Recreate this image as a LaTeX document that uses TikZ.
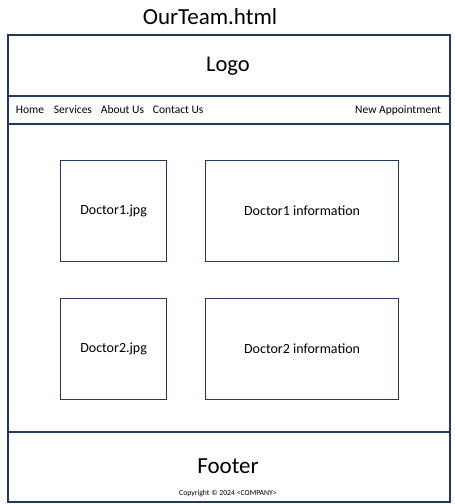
\documentclass[tikz,border=0pt]{standalone}
\usepackage{fontspec}
\setmainfont{Carlito}
\usepackage{tikz}
\definecolor{framenavy}{RGB}{32,56,100}
\tikzset{
  block/.style={draw=framenavy, line width=1.5pt, anchor=north west, inner sep=0pt},
  docbox/.style={draw=framenavy, line width=1.2pt, anchor=north west, inner sep=0pt, font=\fontsize{14}{16}\selectfont},
  navtext/.style={anchor=west, inner sep=0.75pt, font=\fontsize{11.5}{13}\selectfont},
}
\begin{document}
\begin{tikzpicture}[x=1pt,y=-1pt]
\useasboundingbox (0,0) rectangle (455,504);

% Title
\node (title) at (210,17) [font=\fontsize{23}{26}\selectfont] {OurTeam.html};

% page frame sections
\node (header) at (7,34) [block, minimum width=442pt, minimum height=61pt] {};
\node (nav) at (7,95) [block, minimum width=442pt, minimum height=28pt] {};
\node (body) at (7,123) [block, minimum width=442pt, minimum height=308pt] {};
\node (footer) at (7,431) [block, minimum width=442pt, minimum height=70pt] {};

% Text Node
\node (logo) at (228,66) [font=\fontsize{22.5}{26}\selectfont] {Logo};
% menu
\node (home) at (15,110) [navtext] {Home};
\node (services) at (53,110) [navtext] {Services};
\node (about) at (100,110) [navtext] {About Us};
\node (contact) at (152,110) [navtext] {Contact Us};
\node (appoint) at (442,110) [navtext, anchor=east] {New Appointment};

% doctor boxes
\node (doc1pic) at (60,160) [docbox, minimum width=106pt, minimum height=101pt] {Doctor1.jpg};
\node (doc1info) at (205,160) [docbox, minimum width=193pt, minimum height=101pt] {Doctor1 information};
\node (doc2pic) at (60,298) [docbox, minimum width=106pt, minimum height=101pt] {Doctor2.jpg};
\node (doc2info) at (205,298) [docbox, minimum width=193pt, minimum height=101pt] {Doctor2 information};

% Text Node
\node (foot) at (228,466) [font=\fontsize{23}{26}\selectfont] {Footer};
\node (copy) at (228,493) [font=\fontsize{7.7}{9}\selectfont] {Copyright © 2024 <COMPANY>};
\end{tikzpicture}
\end{document}
